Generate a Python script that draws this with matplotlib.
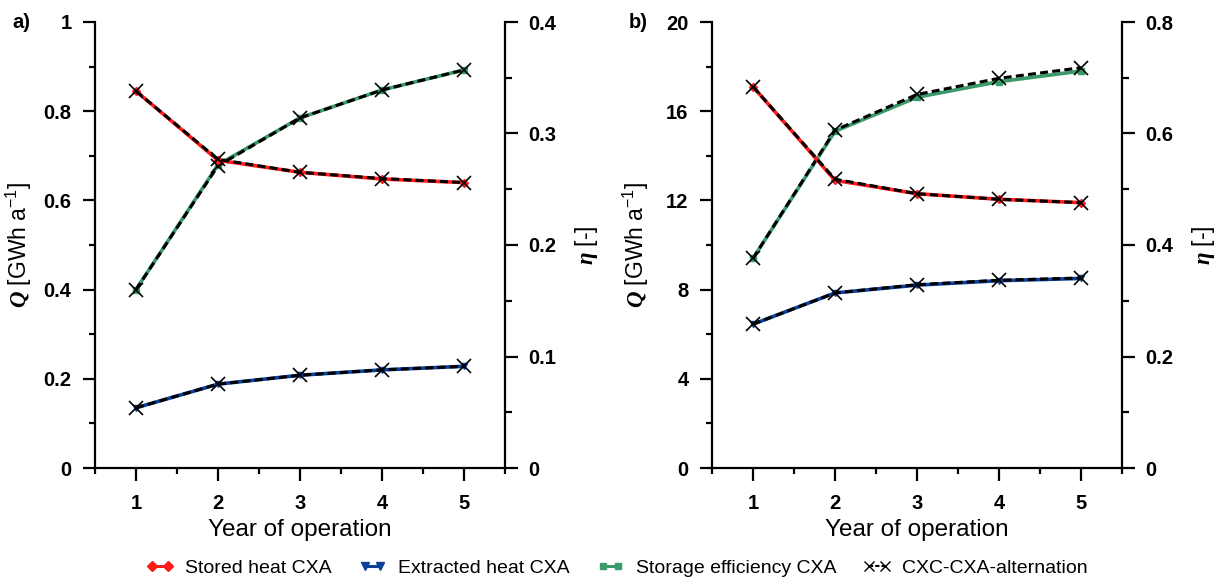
import matplotlib
matplotlib.use("Agg")
import matplotlib.pyplot as plt
from matplotlib.ticker import MultipleLocator
from matplotlib.lines import Line2D

plt.rcParams["mathtext.fontset"] = "custom"
plt.rcParams["mathtext.rm"] = "Liberation Sans"
plt.rcParams["mathtext.it"] = "Liberation Sans:italic"
plt.rcParams["mathtext.bf"] = "Liberation Serif:bold:italic"
plt.rcParams["mathtext.bfit"] = "Liberation Serif:bold:italic"

years = [1, 2, 3, 4, 5]

# Panel a
a_stored = [0.845, 0.690, 0.663, 0.648, 0.640]
a_extracted = [0.135, 0.188, 0.208, 0.220, 0.228]
a_eff = [0.160, 0.272, 0.314, 0.339, 0.357]
a_alt_stored = [0.845, 0.692, 0.663, 0.649, 0.640]
a_alt_extracted = [0.135, 0.188, 0.208, 0.220, 0.228]
a_alt_eff = [0.160, 0.271, 0.314, 0.339, 0.357]

# Panel b
b_stored = [17.1, 12.9, 12.3, 12.05, 11.9]
b_extracted = [6.45, 7.85, 8.2, 8.4, 8.5]
b_eff = [0.376, 0.604, 0.665, 0.693, 0.712]
b_alt_stored = [17.1, 12.95, 12.3, 12.05, 11.9]
b_alt_extracted = [6.45, 7.85, 8.22, 8.42, 8.52]
b_alt_eff = [0.376, 0.606, 0.670, 0.699, 0.718]

labels = ["Stored heat CXA", "Extracted heat CXA", "Storage efficiency CXA", "CXC-CXA-alternation"]

RED = "#ff1a1a"
BLUE = "#0d3f99"
GREEN = "#3a9a6a"

FONT = ["Liberation Sans", "DejaVu Sans"]

fig = plt.figure(figsize=(12.18, 5.82), dpi=100)

W = 1218.0
H = 582.0
bottom = 1 - 468 / H
height = (468 - 22) / H

panels = [
    dict(left=95, ylim=(0, 1), ymaj=0.2, ymin=0.1,
         ylim2=(0, 0.4), ymaj2=0.1, ymin2=0.05, tag="a)", tagx=12,
         st=a_stored, ex=a_extracted, ef=a_eff,
         ast=a_alt_stored, aex=a_alt_extracted, aef=a_alt_eff),
    dict(left=712, ylim=(0, 20), ymaj=4, ymin=2,
         ylim2=(0, 0.8), ymaj2=0.2, ymin2=0.1, tag="b)", tagx=629,
         st=b_stored, ex=b_extracted, ef=b_eff,
         ast=b_alt_stored, aex=b_alt_extracted, aef=b_alt_eff),
]

DASH = (0, (2.6, 1.4))

for p in panels:
    ax = fig.add_axes([p["left"] / W, bottom, 410 / W, height])
    ax2 = ax.twinx()
    ax.set_zorder(ax2.get_zorder() + 1)
    ax.patch.set_visible(False)

    ax2.plot(years, p["ef"], color=GREEN, lw=2.6, marker="s", ms=4, mfc=GREEN, mec=GREEN, zorder=3)
    ax.plot(years, p["st"], color=RED, lw=2.6, marker="D", ms=4, mfc=RED, mec=RED, zorder=3)
    ax.plot(years, p["ex"], color=BLUE, lw=2.6, marker="v", ms=5, mfc=BLUE, mec=BLUE, zorder=3)

    ax2.plot(years, p["aef"], color="black", lw=2.2, ls=DASH, marker="x", ms=9.5, mew=1.2, zorder=4)
    ax.plot(years, p["ast"], color="black", lw=2.2, ls=DASH, marker="x", ms=9.5, mew=1.2, zorder=4)
    ax.plot(years, p["aex"], color="black", lw=2.2, ls=DASH, marker="x", ms=9.5, mew=1.2, zorder=4)

    ax.set_xlim(0.5, 5.5)
    ax.set_ylim(*p["ylim"])
    ax2.set_ylim(*p["ylim2"])
    ax.xaxis.set_major_locator(MultipleLocator(1))
    ax.xaxis.set_minor_locator(MultipleLocator(0.5))
    ax.yaxis.set_major_locator(MultipleLocator(p["ymaj"]))
    ax.yaxis.set_minor_locator(MultipleLocator(p["ymin"]))
    ax2.yaxis.set_major_locator(MultipleLocator(p["ymaj2"]))
    ax2.yaxis.set_minor_locator(MultipleLocator(p["ymin2"]))
    ax.set_xticks([1, 2, 3, 4, 5])

    for a in (ax, ax2):
        a.spines["top"].set_visible(False)
        for s in a.spines.values():
            s.set_linewidth(1.6)
    ax.spines["right"].set_visible(False)
    ax2.spines["left"].set_visible(False)
    ax2.spines["bottom"].set_visible(False)

    ax.tick_params(axis="y", which="major", direction="out", length=9, width=1.6, pad=8)
    ax.tick_params(axis="y", which="minor", direction="out", length=4.5, width=1.6)
    ax.tick_params(axis="x", which="major", direction="out", length=9, width=1.6, pad=10)
    ax.tick_params(axis="x", which="minor", direction="out", length=4, width=1.6)
    ax2.tick_params(axis="y", which="major", direction="out", length=9, width=1.6, pad=8)
    ax2.tick_params(axis="y", which="minor", direction="out", length=5, width=1.6)

    yt = ax.get_yticks()
    ax.set_yticks(yt)
    ax.set_yticklabels(["%g" % round(v, 3) for v in yt])
    yt2 = ax2.get_yticks()
    ax2.set_yticks(yt2)
    ax2.set_yticklabels(["%g" % round(v, 3) for v in yt2])
    ax.set_ylim(*p["ylim"])
    ax2.set_ylim(*p["ylim2"])

    for lab in ax.get_xticklabels() + ax.get_yticklabels() + ax2.get_yticklabels():
        lab.set_fontfamily(FONT)
        lab.set_fontweight("bold")
        lab.set_fontsize(14.5)

    ax.set_xlabel("Year of operation", fontsize=17.5, family=FONT)
    ax.xaxis.set_label_coords(0.5, -0.115)
    ax.set_ylabel(r"$\boldsymbol{Q}$ [GWh a$^{\mathregular{-1}}$]", fontsize=16.5, family=FONT)
    ax.yaxis.set_label_coords(-0.148, 0.5)
    ax2.set_ylabel(r"$\boldsymbol{\eta}$ [-]", fontsize=16.5, family=FONT, rotation=90)
    ax2.yaxis.set_label_coords(1.165, 0.5)

    fig.text(p["tagx"] / W, 1 - 22 / H, p["tag"], fontsize=14.5, fontweight="bold",
             family=FONT, ha="left", va="center")

handles = [
    Line2D([], [], color=RED, lw=2.2, marker="D", ms=5),
    Line2D([], [], color=BLUE, lw=2.2, marker="v", ms=6),
    Line2D([], [], color=GREEN, lw=2.2, marker="s", ms=4),
    Line2D([], [], color="black", lw=1.5, ls=(0, (2, 1)), marker="x", ms=7),
]
fig.legend(handles, labels, loc="center", bbox_to_anchor=(617 / W, 1 - 568 / H), ncol=4,
           frameon=False, prop={"family": FONT, "size": 14}, handlelength=1.4,
           handletextpad=0.6, columnspacing=1.4, borderaxespad=0, numpoints=2)

fig.savefig("out.png", dpi=100)
